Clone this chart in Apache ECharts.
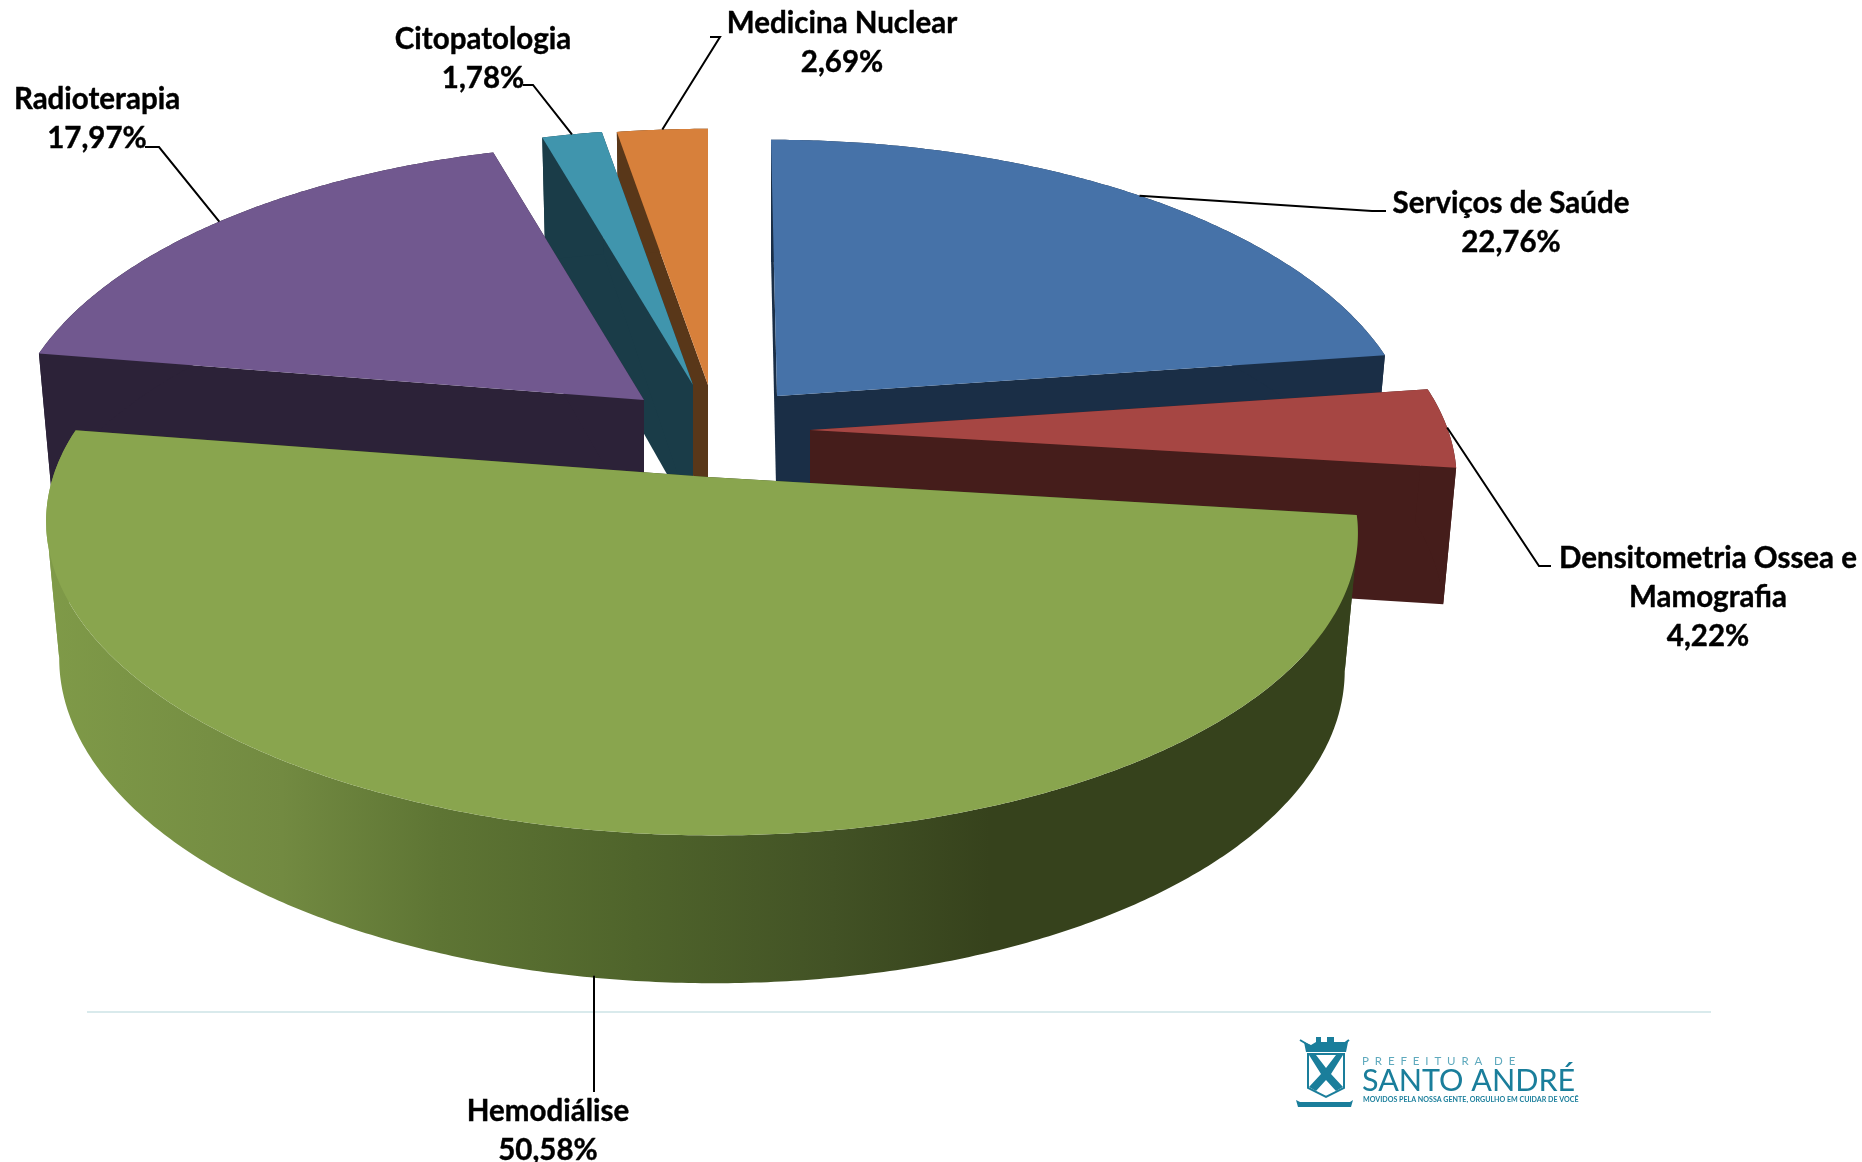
<!DOCTYPE html>
<html>
<head>
<meta charset="utf-8">
<style>html,body{margin:0;padding:0;background:#fff}#c{width:1862px;height:1162px}</style>
<script src="https://cdn.jsdelivr.net/npm/echarts@6/dist/echarts.min.js"></script>
</head>
<body>
<div id="c"></div>
<script>
// ---- data (clockwise from 12 o'clock) ----
const categories = ['Serviços de Saúde', 'Densitometria Ossea e\nMamografia', 'Hemodiálise', 'Radioterapia', 'Citopatologia', 'Medicina Nuclear'];
const values = [22.76, 4.22, 50.58, 17.97, 1.78, 2.69];
const valueLabels = ['22,76%', '4,22%', '50,58%', '17,97%', '1,78%', '2,69%'];

// ---- styling ----
const topColors  = ['#4672a8', '#a64643', '#89a54e', '#71588f', '#4095ad', '#d7803b'];
const wallColors = ['#1a2e46', '#451d1b', '#36421c', '#2c2238', '#1a3c48', '#593719'];
const paintOrder = [0, 5, 4, 3, 1, 2];
// explosion layout per slice: apex, ellipse centre x, radii, shear
const apexX =  [777, 810, 708, 644, 693, 708];
const apexY =  [396, 430, 477, 400, 385, 385];
const ellCx =  [777, 810, 700, 644, 693, 708];
const radX  =  [629, 638, 647, 629, 629, 629];
const radY  =  [298, 298, 300, 298, 298, 298];
const shear =  [7, 0, 12, 0, 0, 0];
const persp = 0.163, depth = 135, floorScale = 0.98;
// label layout: centre x, first-line centre y, elbow and end of the leader
const labelX = [1511, 1708, 548, 97, 483, 842];
const labelY = [203, 558, 1111, 99, 39, 23];
const leaderMid = [[1372, 211], [1539, 566], [594, 1092], [159, 147], [533, 85], [720, 37]];
const leaderEnd = [[1386, 211], [1551, 566], [594, 1092], [145, 147], [523, 85], [710, 37]];
const labelFont = 'bold 29.5px Lato, "Open Sans", sans-serif';
const lineH = 39;

const total = values.reduce((a, b) => a + b, 0);
const startAngle = [];
let acc = 0;
values.forEach(v => { startAngle.push(acc / total * 360); acc += v; });

function topPoint(i, deg) {
  const a = deg * Math.PI / 180, u = Math.sin(a), v = -Math.cos(a);
  const w = 1 / (1 - persp * v);
  return { x: ellCx[i] + radX[i] * u * w + shear[i] * v * w, y: apexY[i] + radY[i] * v * w, v: v };
}
function floorPoint(i, p) {
  const c = ellCx[i];
  return [c + (p.x - c) * floorScale, p.y + depth * (1 + 0.095 * p.v)];
}
function renderSlice(params, api) {
  const i = api.value(0);
  const rank = params.dataIndex * 10;
  const from = startAngle[i], to = from + api.value(1) / total * 360;
  const top = [], bot = [];
  const n = Math.max(4, Math.ceil((to - from) * 2));
  for (let k = 0; k <= n; k++) {
    const p = topPoint(i, from + (to - from) * k / n);
    top.push([p.x, p.y]);
    bot.push(floorPoint(i, p));
  }
  const apex = [apexX[i], apexY[i]];
  const apexFloor = [apexX[i], apexY[i] + depth];
  const wallFill = i === 2
    ? new echarts.graphic.LinearGradient(46, 0, 1357, 0, [
        { offset: 0, color: '#7f9a48' }, { offset: 0.18, color: '#728a41' },
        { offset: 0.3, color: '#5e7534' }, { offset: 0.45, color: '#4f642b' },
        { offset: 0.6, color: '#425225' }, { offset: 0.72, color: '#36421c' },
        { offset: 1, color: '#36421c' }], true)
    : wallColors[i];
  const children = [];
  const poly = (pts, fill, z2) => children.push({ type: 'polygon', shape: { points: pts }, style: { fill: fill }, z2: rank + z2 });
  poly([apex, top[0], bot[0], apexFloor], wallColors[i], 1);
  poly([apex, top[n], bot[n], apexFloor], wallColors[i], 1);
  // the rim wall is cut where the rim turns back in x, so each piece is a simple polygon
  let s = 0;
  for (let k = 1; k <= n; k++) {
    const turn = k < n && (top[k][0] - top[k - 1][0]) * (top[k + 1][0] - top[k][0]) < 0;
    if (turn || k === n) {
      poly(top.slice(s, k + 1).concat(bot.slice(s, k + 1).reverse()), wallFill, 2);
      s = k;
    }
  }
  poly([apex].concat(top), topColors[i], 3);

  // leader line starts at the middle of the slice's rim (at the wall's foot for the front slice)
  const mid = topPoint(i, (from + to) / 2);
  const start = i === 2 ? [leaderMid[i][0], floorPoint(i, mid)[1] - 3] : [mid.x, mid.y];
  children.push({
    type: 'polyline', shape: { points: [start, leaderMid[i], leaderEnd[i]] },
    style: { stroke: '#000', lineWidth: 2, fill: null }, z2: 200
  });
  const text = categories[api.value(2)] + '\n' + valueLabels[i];
  children.push({
    type: 'text', z2: 210,
    style: {
      text: text, x: labelX[i], y: labelY[i] - lineH / 2, align: 'center', verticalAlign: 'top',
      font: labelFont, lineHeight: lineH, fill: '#000', stroke: '#000', lineWidth: 0.4
    }
  });
  return { type: 'group', children: children };
}

const logoColor = '#1a7e9b';
const logoInk = '#5ea9bd';
const logoFont = 'Lato, "Open Sans", sans-serif';
const logo = [
  { type: 'line', shape: { x1: 87, y1: 1012, x2: 1711, y2: 1012 }, style: { stroke: '#d9eaec', lineWidth: 2 } },
  // crown
  { type: 'polygon', shape: { points: [[1306, 1052], [1304, 1042], [1311, 1045], [1316, 1042], [1316, 1037], [1321, 1037], [1321, 1042], [1327, 1042], [1327, 1037], [1334, 1037], [1334, 1042], [1340, 1042], [1348, 1042], [1346, 1052]] }, style: { fill: logoColor } },
  { type: 'line', shape: { x1: 1300, y1: 1040, x2: 1310, y2: 1046 }, style: { stroke: logoColor, lineWidth: 2 } },
  { type: 'line', shape: { x1: 1349, y1: 1040, x2: 1341, y2: 1046 }, style: { stroke: logoColor, lineWidth: 2 } },
  // shield
  { type: 'polygon', shape: { points: [[1308, 1054], [1344, 1054], [1344, 1088], [1326, 1097], [1308, 1088]] }, style: { fill: '#fff', stroke: logoColor, lineWidth: 2 } },
  { type: 'polygon', shape: { points: [[1309, 1055], [1316, 1055], [1326, 1068], [1336, 1055], [1343, 1055], [1331, 1074], [1343, 1087], [1336, 1091], [1326, 1080], [1316, 1091], [1309, 1087], [1321, 1074]] }, style: { fill: logoColor } },
  // banner
  { type: 'polygon', shape: { points: [[1296, 1100], [1300, 1102], [1350, 1102], [1353, 1100], [1351, 1107], [1298, 1107]] }, style: { fill: logoColor } },
  { type: 'text', style: { text: 'P  R  E  F  E  I  T  U  R  A    D  E', x: 1362, y: 1061, verticalAlign: 'middle', font: '11.5px ' + logoFont, fill: logoInk } },
  { type: 'text', style: { text: 'SANTO ANDRÉ', x: 1362, y: 1081, verticalAlign: 'middle', font: '30.5px ' + logoFont, fill: logoColor } },
  { type: 'text', style: { text: 'MOVIDOS PELA NOSSA GENTE, ORGULHO EM CUIDAR DE VOCÊ', x: 1363, y: 1100, verticalAlign: 'middle', font: 'bold 7.1px ' + logoFont, fill: logoColor } }
];

const chart = echarts.init(document.getElementById('c'), null, { renderer: 'canvas' });
chart.setOption({
  backgroundColor: '#fff',
  animation: false,
  graphic: { elements: logo },
  series: [{
    type: 'custom',
    coordinateSystem: 'none',
    silent: true,
    renderItem: renderSlice,
    data: paintOrder.map(i => [i, values[i], i])
  }]
});
</script>
</body>
</html>
